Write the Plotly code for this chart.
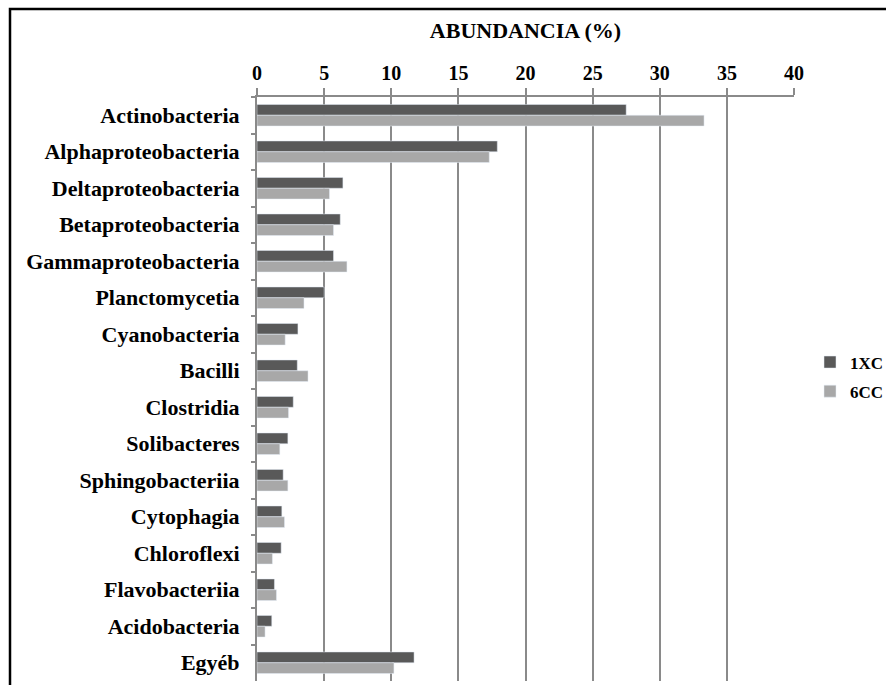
import plotly.graph_objects as go

W, H = 886, 685
L, R, T, B = 257, 92, 97, 4

categories = [
    "Actinobacteria", "Alphaproteobacteria", "Deltaproteobacteria", "Betaproteobacteria",
    "Gammaproteobacteria", "Planctomycetia", "Cyanobacteria", "Bacilli", "Clostridia",
    "Solibacteres", "Sphingobacteriia", "Cytophagia", "Chloroflexi", "Flavobacteriia",
    "Acidobacteria", "Egyéb",
]
xc1 = [27.5, 17.9, 6.4, 6.2, 5.7, 5.0, 3.05, 3.0, 2.7, 2.3, 1.95, 1.85, 1.8, 1.3, 1.1, 11.7]
cc6 = [33.3, 17.3, 5.4, 5.7, 6.7, 3.5, 2.1, 3.8, 2.35, 1.7, 2.3, 2.05, 1.15, 1.45, 0.6, 10.2]
x_ticks = [0, 5, 10, 15, 20, 25, 30, 35, 40]

SERIF = "Liberation Serif, Times New Roman, serif"
DARK = "#595959"
LIGHT = "#a8a8a8"
GRID = "#8a8a8a"

pw, ph = W - L - R, H - T - B


def px_x(p):
    return (p - L) / pw


def px_y(p):
    return (H - B - p) / ph


fig = go.Figure()
fig.add_trace(go.Bar(y=categories, x=xc1, orientation="h", name="1XC",
                     marker_color=DARK, legendgroup="a"))
fig.add_trace(go.Bar(y=categories, x=cc6, orientation="h", name="6CC",
                     marker_color=LIGHT, legendgroup="b"))

fig.update_layout(
    width=W,
    height=H,
    margin=dict(l=L, r=R, t=T, b=B, autoexpand=False),
    paper_bgcolor="white",
    plot_bgcolor="white",
    barmode="group",
    bargap=0.41,
    bargroupgap=0,
    font=dict(family=SERIF, color="black"),
    title=dict(
        text="<b>ABUNDANCIA (%)</b>",
        font=dict(size=22, family=SERIF, color="black"),
        x=0.5, xref="paper", xanchor="center",
        y=1 - 30 / H, yref="container", yanchor="middle",
    ),
    legend=dict(
        x=px_x(810), y=px_y(377), xanchor="left", yanchor="middle",
        font=dict(size=17, family=SERIF, color="black", weight="bold"),
        traceorder="grouped", tracegroupgap=4,
        bgcolor="rgba(0,0,0,0)",
    ),
    xaxis=dict(
        side="top",
        range=[0, 40],
        tickvals=x_ticks,
        ticks="outside",
        ticklen=7,
        tickwidth=2,
        tickcolor=GRID,
        showline=True,
        linecolor=GRID,
        linewidth=2,
        showgrid=True,
        gridcolor=GRID,
        gridwidth=2,
        zeroline=False,
        tickfont=dict(size=20, family=SERIF, color="black", weight="bold"),
        automargin=False,
    ),
    yaxis=dict(
        autorange=False,
        range=[15.5, -0.5],
        ticks="outside",
        tickson="boundaries",
        ticklen=4,
        tickwidth=2,
        tickcolor=GRID,
        showline=True,
        linecolor=GRID,
        linewidth=2,
        showgrid=False,
        ticklabelstandoff=11,
        tickfont=dict(size=22, family=SERIF, color="black", weight="bold"),
        automargin=False,
    ),
    shapes=[
        dict(type="rect", xref="paper", yref="paper",
             x0=px_x(10), x1=px_x(W + 20), y0=px_y(H + 20), y1=px_y(9),
             line=dict(color="black", width=2.5), layer="above"),
    ],
)

fig.write_html(
    "out.html",
    config={"displayModeBar": False},
    post_script="document.body.style.margin='0';",
)
